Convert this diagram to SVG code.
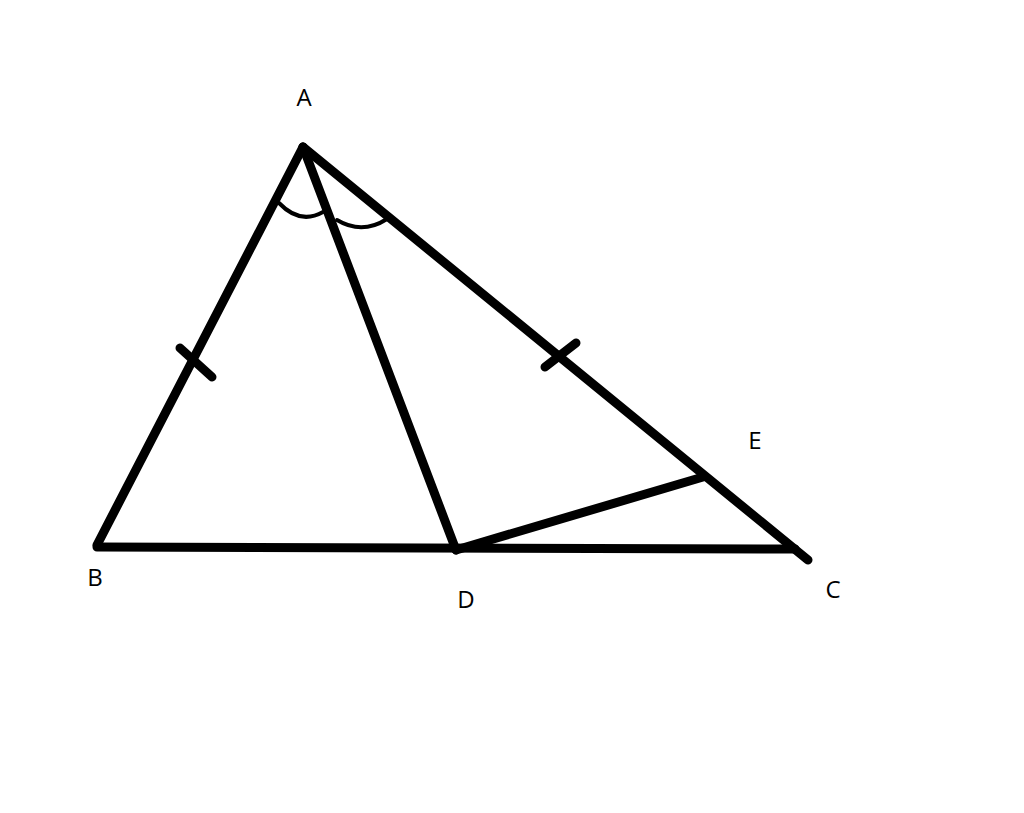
<svg xmlns="http://www.w3.org/2000/svg" width="1024" height="813" viewBox="0 0 1024 813">
<style>
.ln{stroke:#000;stroke-width:9;stroke-linecap:round;stroke-linejoin:round;fill:none}
.thin{stroke:#000;stroke-width:4;stroke-linecap:round;fill:none}
.lbl{font-family:"Open Sans","Liberation Sans",sans-serif;font-size:24px;fill:#000;text-anchor:middle}
</style>
<rect width="1024" height="813" fill="#fff"/>
<g id="connectors">
<path class="ln" d="M303,147 L97,545"/>
<path class="ln" d="M303,147 L808,560"/>
<path class="ln" d="M303,147 L456,550"/>
<path class="ln" d="M97,547 L795,549"/>
<path class="ln" d="M456,550 L703,477"/>
<path class="ln" d="M180,348 L212,377"/>
<path class="ln" d="M545,367 L576,343"/>
<path class="thin" d="M279,203 Q300,225 323,212"/>
<path class="thin" d="M337,220 Q362,235 387,219"/>
</g>
<g id="A"><text class="lbl" x="304" y="106">A</text></g>
<g id="B"><text class="lbl" x="95" y="586">B</text></g>
<g id="C"><text class="lbl" x="833" y="598">C</text></g>
<g id="D"><text class="lbl" x="466" y="608">D</text></g>
<g id="E"><text class="lbl" x="755" y="449">E</text></g>
</svg>
